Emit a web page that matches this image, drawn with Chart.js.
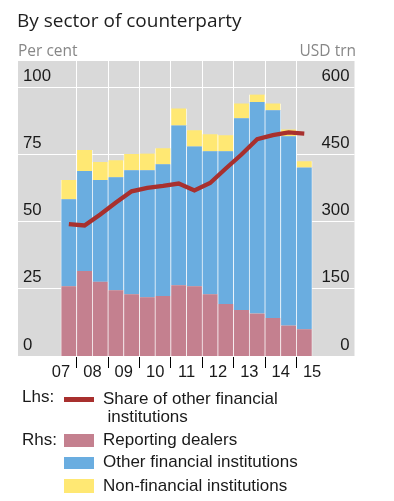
<!DOCTYPE html>
<html>
<head>
<meta charset="utf-8">
<script src="https://cdn.jsdelivr.net/npm/chart.js@4/dist/chart.umd.min.js"></script>
<style>
html,body{margin:0;padding:0;background:#fff;width:394px;height:501px;overflow:hidden;}
#wrap{position:relative;width:394px;height:501px;}
#c{position:absolute;left:0;top:0;}
.t{position:absolute;white-space:nowrap;}
#title{left:17px;top:7.3px;font-family:"Open Sans",sans-serif;font-size:19px;line-height:26px;color:#1e1e1e;}
.unit{top:39.7px;font-family:"Open Sans",sans-serif;font-size:15.5px;line-height:20px;color:#878787;}
#lu{left:18px;}
#ru{right:38px;}
.lg{font-family:"Liberation Sans",Arial,sans-serif;font-size:17px;line-height:20px;color:#1a1a1a;}
.sw{position:absolute;left:64px;width:30px;}
</style>
</head>
<body>
<div id="wrap">
  <canvas id="c" width="394" height="390"></canvas>
  <div class="t" id="title">By sector of counterparty</div>
  <div class="t unit" id="lu">Per cent</div>
  <div class="t unit" id="ru">USD trn</div>

  <div class="t lg" style="left:22px;top:387px;">Lhs:</div>
  <div class="sw" style="top:397.3px;height:4.4px;background:#a8302e;"></div>
  <div class="t lg" style="left:103px;top:389px;">Share of other financial</div>
  <div class="t lg" style="left:107.5px;top:407.4px;">institutions</div>

  <div class="t lg" style="left:22px;top:430px;">Rhs:</div>
  <div class="sw" style="top:434px;height:12.7px;background:#c4808f;"></div>
  <div class="t lg" style="left:103px;top:430px;">Reporting dealers</div>
  <div class="sw" style="top:456.7px;height:12.6px;background:#6aade0;"></div>
  <div class="t lg" style="left:103px;top:452.4px;">Other financial institutions</div>
  <div class="sw" style="top:479.3px;height:13.4px;background:#ffe873;"></div>
  <div class="t lg" style="left:103px;top:475.8px;">Non-financial institutions</div>
</div>
<script>
// ---- data ----
const periods = ['2007H2','2008H1','2008H2','2009H1','2009H2','2010H1','2010H2','2011H1',
                 '2011H2','2012H1','2012H2','2013H1','2013H2','2014H1','2014H2','2015H1'];
// Rhs, USD trn
const reportingDealers   = [156, 190, 166, 147, 138, 131, 134, 158, 156, 138, 116, 103,  95,  85,  68,  60];
const otherFinancial     = [194, 223, 227, 252, 277, 284, 294, 357, 312, 319, 341, 428, 472, 464, 423, 361];
const nonFinancial       = [ 43,  47,  40,  38,  36,  37,  36,  38,  36,  38,  36,  33,  17,  15,  15,  14];
// Lhs, per cent
const shareOtherFinancial = [49.1, 48.6, 52.7, 57.1, 61.3, 62.6, 63.3, 64.2, 61.6, 64.4, 69.8, 75.0, 80.7, 82.2, 83.2, 82.8];
// x-axis years and their labels
const yearTicks  = [2007, 2008, 2009, 2010, 2011, 2012, 2013, 2014, 2015];
const yearLabels = ['07', '08', '09', '10', '11', '12', '13', '14', '15'];
const lhsTicks = [0, 25, 50, 75, 100];
const rhsTicks = [0, 150, 300, 450, 600];

// half-year period -> position on a decimal-year axis (middle of the half year)
const periodX = periods.map(p => parseInt(p.slice(0, 4), 10) + (p.endsWith('H1') ? 0.25 : 0.75));
const pts = arr => arr.map((v, i) => ({ x: periodX[i], y: v }));

const LHS_MAX = 109.8;            // headroom above 100 (grey band)
const RHS_MAX = LHS_MAX * 6;      // 100 % <-> 600 USD trn

const bgPlugin = {
  id: 'greyBg',
  beforeDraw(chart) {
    const a = chart.chartArea, ctx = chart.ctx;
    ctx.save();
    ctx.fillStyle = '#d9d9d9';
    ctx.fillRect(a.left, a.top, a.right - a.left, a.bottom - a.top);
    ctx.restore();
  }
};

const tickFont = { family: '"Liberation Sans", Arial, sans-serif', size: 16.8 };
const barBorder = { left: 0.7, right: 0.7, top: 0, bottom: 0 };

new Chart(document.getElementById('c'), {
  type: 'bar',
  data: {
    datasets: [
      { type: 'line', label: 'Share of other financial institutions', data: pts(shareOtherFinancial),
        yAxisID: 'y', borderColor: '#a8302e', borderWidth: 4.3, pointRadius: 0, tension: 0,
        fill: false, order: 0 },
      { label: 'Reporting dealers', data: pts(reportingDealers), yAxisID: 'y2', stack: 'rhs',
        backgroundColor: '#c4808f', borderColor: '#ffffff', borderWidth: barBorder, borderSkipped: false, order: 1 },
      { label: 'Other financial institutions', data: pts(otherFinancial), yAxisID: 'y2', stack: 'rhs',
        backgroundColor: '#6aade0', borderColor: '#ffffff', borderWidth: barBorder, borderSkipped: false, order: 1 },
      { label: 'Non-financial institutions', data: pts(nonFinancial), yAxisID: 'y2', stack: 'rhs',
        backgroundColor: '#ffe873', borderColor: '#ffffff', borderWidth: barBorder, borderSkipped: false, order: 1 }
    ]
  },
  options: {
    responsive: false,
    maintainAspectRatio: false,
    devicePixelRatio: 1,
    animation: false,
    events: [],
    layout: { padding: { left: 18, right: 39.5, top: 61, bottom: 0 } },
    datasets: { bar: { barPercentage: 1, categoryPercentage: 1 } },
    plugins: { legend: { display: false }, tooltip: { enabled: false }, title: { display: false } },
    scales: {
      x: {
        type: 'linear', min: 2006.13, max: 2016.85, offset: false, stacked: true,
        border: { display: false },
        grid: {
          offset: false, lineWidth: 1, drawTicks: true, tickLength: 12, tickWidth: 1,
          color: c => (c.tick && c.tick.value === yearTicks[0]) ? 'rgba(0,0,0,0)' : '#ffffff',
          tickColor: c => (c.tick && c.tick.value === yearTicks[0]) ? 'rgba(0,0,0,0)' : '#000000'
        },
        afterBuildTicks: s => { s.ticks = yearTicks.map(v => ({ value: v })); },
        afterFit: s => { s.height = 34; },
        ticks: {
          autoSkip: false, maxRotation: 0, minRotation: 0, labelOffset: 15.68, padding: -5,
          color: '#1a1a1a', font: { family: '"Liberation Sans", Arial, sans-serif', size: 16.5 },
          callback: (v, i) => yearLabels[i]
        }
      },
      y: {
        type: 'linear', position: 'left', min: 0, max: LHS_MAX,
        border: { display: false },
        grid: { color: '#ffffff', lineWidth: 1, drawTicks: false },
        afterBuildTicks: s => { s.ticks = lhsTicks.map(v => ({ value: v })); },
        afterFit: s => { s.width = 0; },
        ticks: { mirror: true, padding: 5, labelOffset: -11, color: '#1a1a1a', font: tickFont }
      },
      y2: {
        type: 'linear', position: 'right', min: 0, max: RHS_MAX, stacked: true,
        border: { display: false },
        grid: { display: false, drawTicks: false },
        afterBuildTicks: s => { s.ticks = rhsTicks.map(v => ({ value: v })); },
        afterFit: s => { s.width = 0; },
        ticks: { mirror: true, padding: -5, labelOffset: -11, color: '#1a1a1a', font: tickFont }
      }
    }
  },
  plugins: [bgPlugin]
});
</script>
</body>
</html>
